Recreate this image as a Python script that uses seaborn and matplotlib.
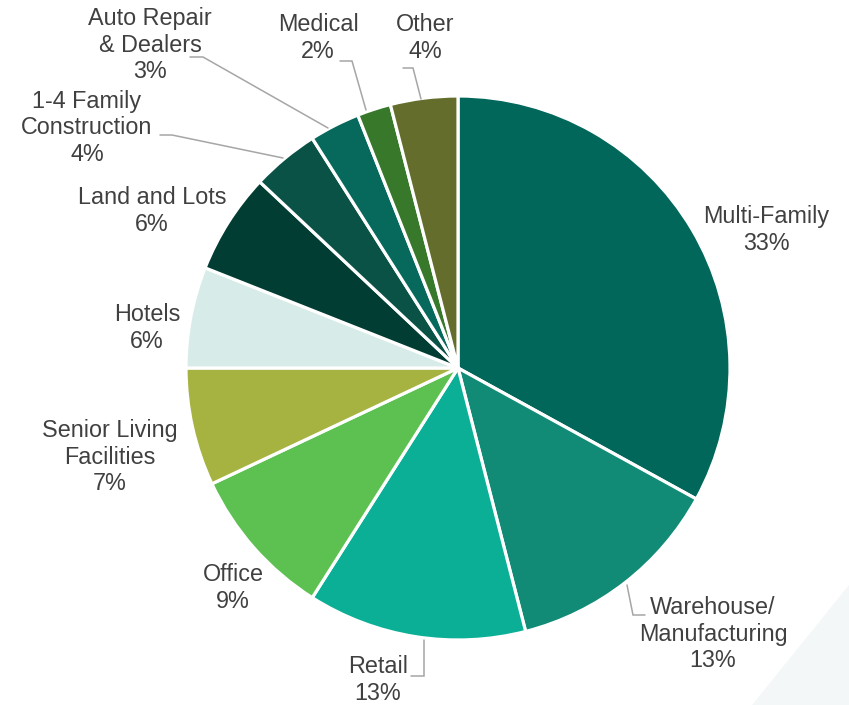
import matplotlib
matplotlib.use("Agg")
import matplotlib.pyplot as plt
import seaborn as sns
from matplotlib.patches import Polygon

sns.set_theme(style="white")
plt.rcParams["font.family"] = ["Liberation Sans", "DejaVu Sans"]

# Loan portfolio composition by property type (percent of total)
categories = [
    "Multi-Family", "Warehouse/\nManufacturing", "Retail", "Office",
    "Senior Living\nFacilities", "Hotels", "Land and Lots",
    "1-4 Family\nConstruction", "Auto Repair\n& Dealers", "Medical", "Other",
]
shares = [33, 13, 13, 9, 7, 6, 6, 4, 3, 2, 4]
colors = [
    "#00675A", "#118A76", "#0AAF96", "#5DC152", "#A6B340", "#D7ECE9",
    "#023D33", "#0A5246", "#06695C", "#37782B", "#646D2B",
]

W, H = 849, 705
CX, CY, R = 458, 368, 272  # pie centre and radius in pixels

fig = plt.figure(figsize=(W / 100, H / 100), dpi=100)
fig.patch.set_facecolor("white")

# faint decorative corner shape
fig.patches.append(Polygon([(752 / W, 0), (1, 120 / H), (1, 0)], closed=True,
                           transform=fig.transFigure, facecolor="#F4F7F8",
                           edgecolor="none", zorder=0))

ax = fig.add_axes([(CX - R) / W, (H - CY - R) / H, 2 * R / W, 2 * R / H])

ax.pie(shares, colors=colors, startangle=90, counterclock=False, radius=1,
       wedgeprops=dict(edgecolor="white", linewidth=2.3))
ax.set_xlim(-1, 1)
ax.set_ylim(-1, 1)
ax.set_aspect("equal")
ax.axis("off")


def px(x, y):
    return (x - CX) / R, (CY - y) / R


# label anchor positions (pixel space) for each category
label_pos = [
    (766, 230), (713, 634), (378, 680), (233, 588), (110, 457), (147, 328),
    (152, 211), (87, 128), (150, 45), (318, 38), (425, 38),
]
for name, val, (lx, ly) in zip(categories, shares, label_pos):
    x, y = px(lx, ly)
    ax.text(x, y, f"{name}\n{val}%", ha="center", va="center",
            multialignment="center", fontsize=16.8, color="#404040",
            linespacing=1.2, clip_on=False)

# leader lines for the small or distant labels
leaders = [
    [(190, 57), (203, 57), (328, 128)],
    [(160, 135), (172, 135), (283, 158)],
    [(340, 61), (352, 61), (366, 110)],
    [(403, 68), (413, 68), (421, 99)],
    [(627, 585), (633, 615), (645, 615)],
    [(424, 640), (424, 676), (411, 676)],
]
for pts in leaders:
    xs, ys = zip(*[px(a, b) for a, b in pts])
    ax.plot(xs, ys, color="#A6A6A6", linewidth=1.1, clip_on=False,
            solid_joinstyle="miter")

fig.savefig("out.png", dpi=100)
